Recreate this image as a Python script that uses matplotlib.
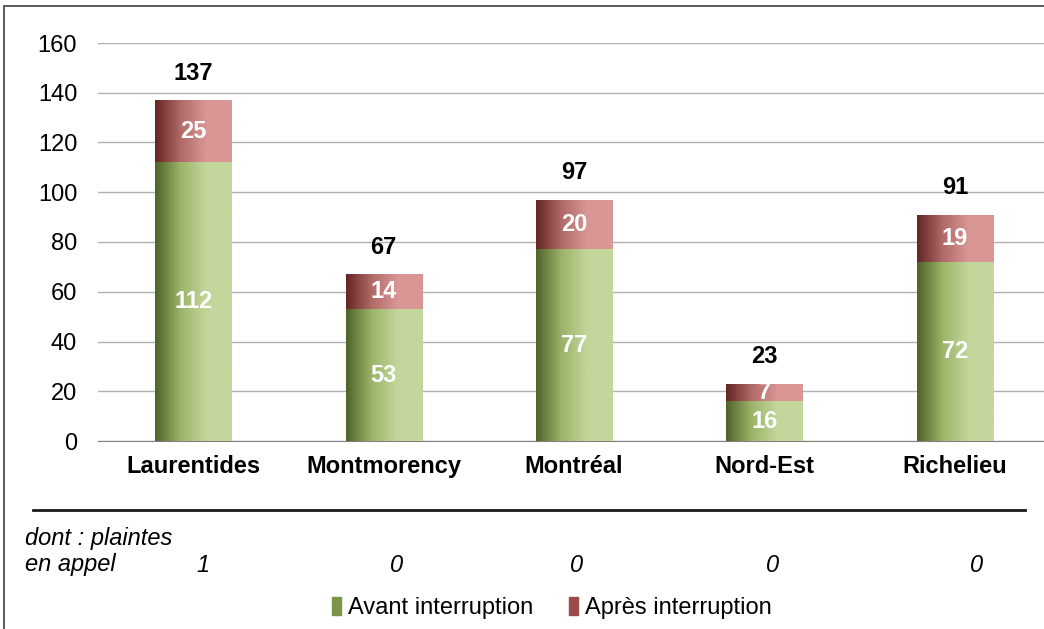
import matplotlib.pyplot as plt
import numpy as np
from matplotlib.colors import LinearSegmentedColormap
from matplotlib.patches import Rectangle

plt.rcParams['font.family'] = ['Liberation Sans', 'DejaVu Sans']

# data
regions = ['Laurentides', 'Montmorency', 'Montréal', 'Nord-Est', 'Richelieu']
avant = [112, 53, 77, 16, 72]
apres = [25, 14, 20, 7, 19]
appel = [1, 0, 0, 0, 0]

green_cm = LinearSegmentedColormap.from_list('g', ['#4f6228', '#9bb46a', '#c3d69b', '#c3d69b'])
red_cm = LinearSegmentedColormap.from_list('r', ['#632523', '#b06a68', '#d99694', '#d99694'])
grad = np.linspace(0, 1, 256).reshape(1, -1)

fig = plt.figure(figsize=(10.44, 6.29), dpi=100)
ax = fig.add_axes([98/1044, 1 - 441/629, 952/1044, 398/629])

x = np.arange(len(regions))
w = 0.40
b1 = ax.bar(x, avant, w, color='#9bb46a', zorder=2)
b2 = ax.bar(x, apres, w, bottom=avant, color='#b06a68', zorder=2)

# gradient fill, clipped to each bar
for bars, cm in ((b1, green_cm), (b2, red_cm)):
    for r in bars:
        x0, y0 = r.get_x(), r.get_y()
        im = ax.imshow(grad, cmap=cm, aspect='auto', zorder=3,
                       extent=[x0, x0 + r.get_width(), y0, y0 + r.get_height()])
        im.set_clip_path(r)

for i in range(len(regions)):
    ax.text(x[i], avant[i] / 2, str(avant[i]), ha='center', va='center',
            color='white', fontsize=17, fontweight='bold', zorder=4)
    ax.text(x[i], avant[i] + apres[i] / 2, str(apres[i]), ha='center', va='center',
            color='white', fontsize=17, fontweight='bold', zorder=4)
    tot = avant[i] + apres[i]
    ax.annotate(str(tot), (x[i], tot), xytext=(0, 27), textcoords='offset pixels',
                ha='center', va='center', color='black', fontsize=17,
                fontweight='bold', zorder=4)

ax.set_xlim(-0.5, 4.5)
ax.set_ylim(0, 160)
ax.set_yticks(range(0, 161, 20))
ax.yaxis.grid(True, color='#b0b0b0', linewidth=1)
ax.set_axisbelow(True)
for s in ['top', 'right', 'left']:
    ax.spines[s].set_visible(False)
ax.spines['bottom'].set_color('#808080')
ax.tick_params(axis='y', length=0, pad=15, labelsize=17)
ax.tick_params(axis='x', length=0, pad=10, labelsize=17)
ax.set_xticks(x)
ax.set_xticklabels(regions, fontweight='bold')

# separator line and appeal row
fig.add_artist(plt.Line2D([33/1044, 1025/1044], [1 - 510/629, 1 - 510/629],
                          color='#1a1a1a', linewidth=2))
fig.text(25/1044, 1 - 538/629, 'dont : plaintes', style='italic', fontsize=17,
         va='center')
fig.text(25/1044, 1 - 565/629, 'en appel', style='italic', fontsize=17,
         va='center')
appel_px = [203, 397, 577, 773, 977]
for px, v in zip(appel_px, appel):
    fig.text(px/1044, 1 - 565/629, str(v), style='italic', fontsize=17,
             ha='center', va='center')

# legend
h1 = Rectangle((0, 0), 1, 1, color='#7a9448')
h2 = Rectangle((0, 0), 1, 1, color='#9a4c4a')
fig.legend([h1, h2], ['Avant interruption', 'Après interruption'],
           loc='center', bbox_to_anchor=(552/1044, 1 - 608/629), ncol=2,
           frameon=False, fontsize=17,
           handlelength=0.4, handleheight=0.8,
           handletextpad=0.3, columnspacing=1.5)

# outer frame
fig.add_artist(Rectangle((4/1044, -0.1), 1.2, 1 - 6/629 + 0.1, fill=False,
                         edgecolor='#404040', linewidth=1.2, transform=fig.transFigure))

fig.savefig('out.png', dpi=100)
